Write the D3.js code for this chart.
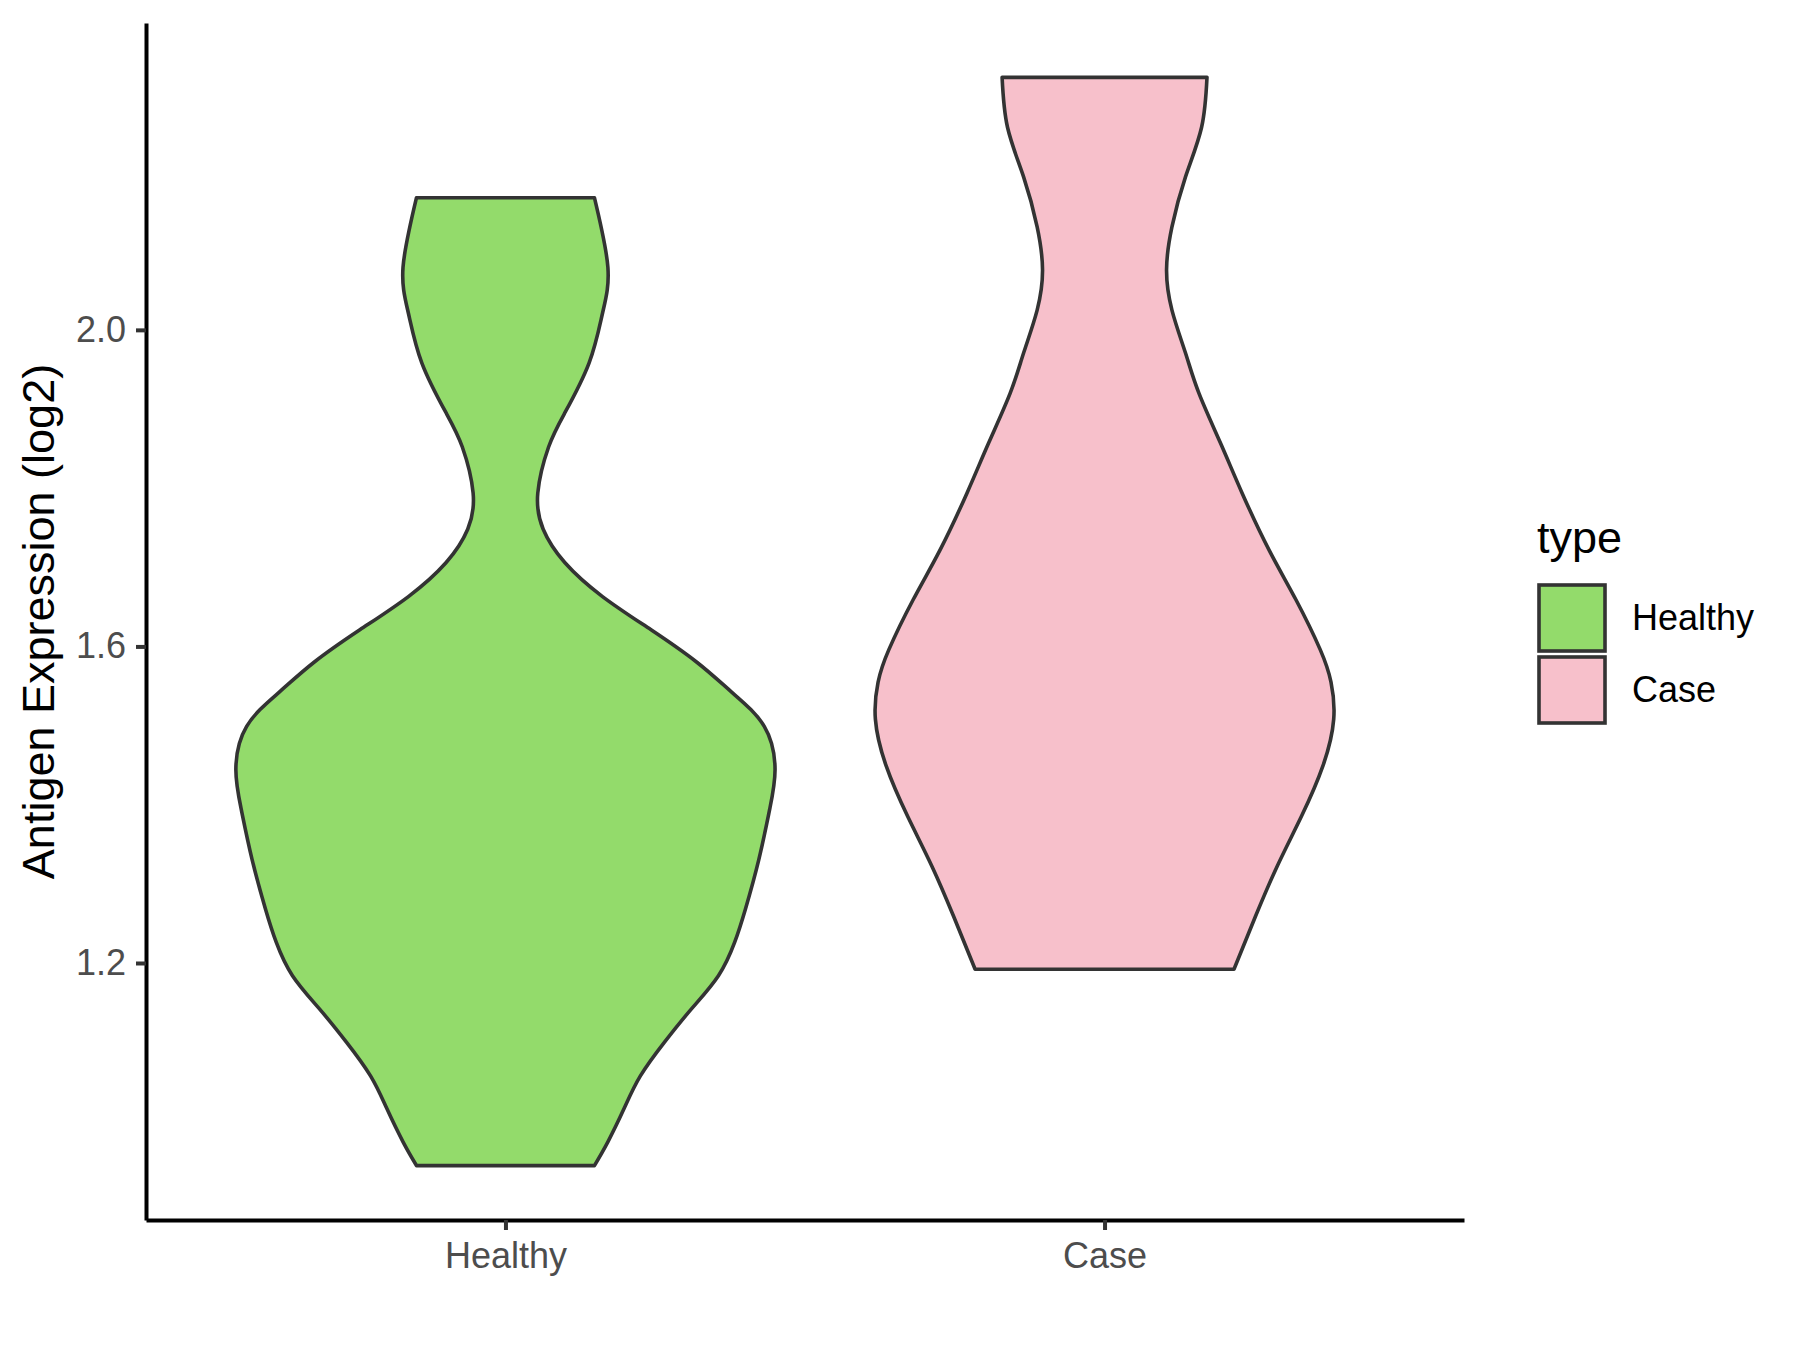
<!DOCTYPE html>
<html>
<head>
<meta charset="utf-8">
<script src="https://cdn.jsdelivr.net/npm/d3@7"></script>
<style>
	body { margin: 0; background: #fff; }
	svg { display: block; font-family: "Liberation Sans", Arial, sans-serif; }
</style>
</head>
<body>
<main></main>
<script>
	// groups along the x axis
	const categories = ["Healthy", "Case"];

	// violin outlines: expression level and relative density
	const healthyLevels = [0.944, 0.974, 1.016, 1.057, 1.100, 1.142, 1.184, 1.226, 1.268, 1.331, 1.394, 1.445,
		1.499, 1.542, 1.580, 1.621, 1.663, 1.706, 1.748, 1.794, 1.852, 1.895, 1.958, 2.021, 2.079, 2.167];
	const healthyDensity = [0.33, 0.38, 0.44, 0.50, 0.59, 0.69, 0.79, 0.85, 0.89, 0.94, 0.98, 1.00,
		0.96, 0.84, 0.71, 0.54, 0.36, 0.22, 0.14, 0.12, 0.16, 0.22, 0.31, 0.36, 0.38, 0.33];

	const caseLevels = [1.192, 1.259, 1.322, 1.385, 1.449, 1.508, 1.555, 1.596, 1.659, 1.722, 1.794, 1.857,
		1.920, 1.971, 2.025, 2.076, 2.130, 2.193, 2.256, 2.319];
	const caseDensity = [0.48, 0.56, 0.64, 0.73, 0.81, 0.85, 0.84, 0.80, 0.71, 0.61, 0.51, 0.43,
		0.35, 0.30, 0.25, 0.23, 0.25, 0.30, 0.36, 0.38];

	const yTicks = [1.2, 1.6, 2.0];

	const width = 1800;
	const height = 1350;
	const plot = { left: 146, right: 1464, top: 23, bottom: 1220 };

	const fills = { Healthy: "#93DB6B", Case: "#F7C0CB" };

	const groups = [
		{ name: "Healthy", levels: healthyLevels, density: healthyDensity },
		{ name: "Case", levels: caseLevels, density: caseDensity }
	];

	var svg = d3.select("main")
		.append("svg")
		.attr("width", width)
		.attr("height", height);

	const allLevels = healthyLevels.concat(caseLevels);
	const lo = d3.min(allLevels);
	const hi = d3.max(allLevels);
	const pad = (hi - lo) * 0.05;

	const yScale = d3.scaleLinear()
		.domain([lo - pad, hi + pad])
		.range([plot.bottom, plot.top]);

	const xScale = d3.scalePoint()
		.domain(categories)
		.range([plot.left, plot.right])
		.padding(0.6);

	// ggplot violins: widest density takes 90% of the category step
	const wScale = d3.scaleLinear()
		.domain([0, 1])
		.range([0, xScale.step() * 0.45]);

	groups.forEach(function(g) {
		const pts = g.levels.map((v, i) => ({ v: v, d: g.density[i] }));
		const cx = xScale(g.name);
		const area = d3.area()
			.y((p) => yScale(p.v))
			.x0((p) => cx - wScale(p.d))
			.x1((p) => cx + wScale(p.d))
			.curve(d3.curveNatural);

		svg.append("path")
			.datum(pts)
			.attr("d", area)
			.attr("fill", fills[g.name])
			.attr("stroke", "#333333")
			.attr("stroke-width", 3.6)
			.attr("stroke-linejoin", "round");
	});

	// axes
	const yAxis = svg.append("g")
		.attr("transform", `translate(${plot.left}, 0)`)
		.call(d3.axisLeft(yScale)
			.tickValues(yTicks)
			.tickFormat(d3.format(".1f"))
			.tickSize(10)
			.tickSizeOuter(0)
			.tickPadding(10));

	const xAxis = svg.append("g")
		.attr("transform", `translate(0, ${plot.bottom})`)
		.call(d3.axisBottom(xScale)
			.tickSize(10)
			.tickSizeOuter(0)
			.tickPadding(12));

	[yAxis, xAxis].forEach(function(ax) {
		ax.select(".domain")
			.attr("stroke", "#000")
			.attr("stroke-width", 4);
		ax.selectAll(".tick line")
			.attr("stroke", "#333333")
			.attr("stroke-width", 4);
		ax.selectAll(".tick text")
			.attr("fill", "#4D4D4D")
			.style("font-size", "36px")
			.style("font-family", "'Liberation Sans', Arial, sans-serif");
	});

	svg.append("text")
		.attr("transform", `translate(54, ${(plot.top + plot.bottom) / 2}) rotate(-90)`)
		.attr("text-anchor", "middle")
		.style("font-size", "45px")
		.attr("fill", "#000")
		.text("Antigen Expression (log2)");

	// legend
	const legend = svg.append("g")
		.attr("transform", "translate(1537, 0)");

	legend.append("text")
		.attr("x", 0)
		.attr("y", 553)
		.style("font-size", "45px")
		.attr("fill", "#000")
		.text("type");

	categories.forEach(function(c, i) {
		legend.append("rect")
			.attr("x", 2)
			.attr("y", 585 + i * 72)
			.attr("width", 66)
			.attr("height", 66)
			.attr("fill", fills[c])
			.attr("stroke", "#333333")
			.attr("stroke-width", 3.6);

		legend.append("text")
			.attr("x", 95)
			.attr("y", 630 + i * 72)
			.style("font-size", "36px")
			.attr("fill", "#000")
			.text(c);
	});
</script>
</body>
</html>
